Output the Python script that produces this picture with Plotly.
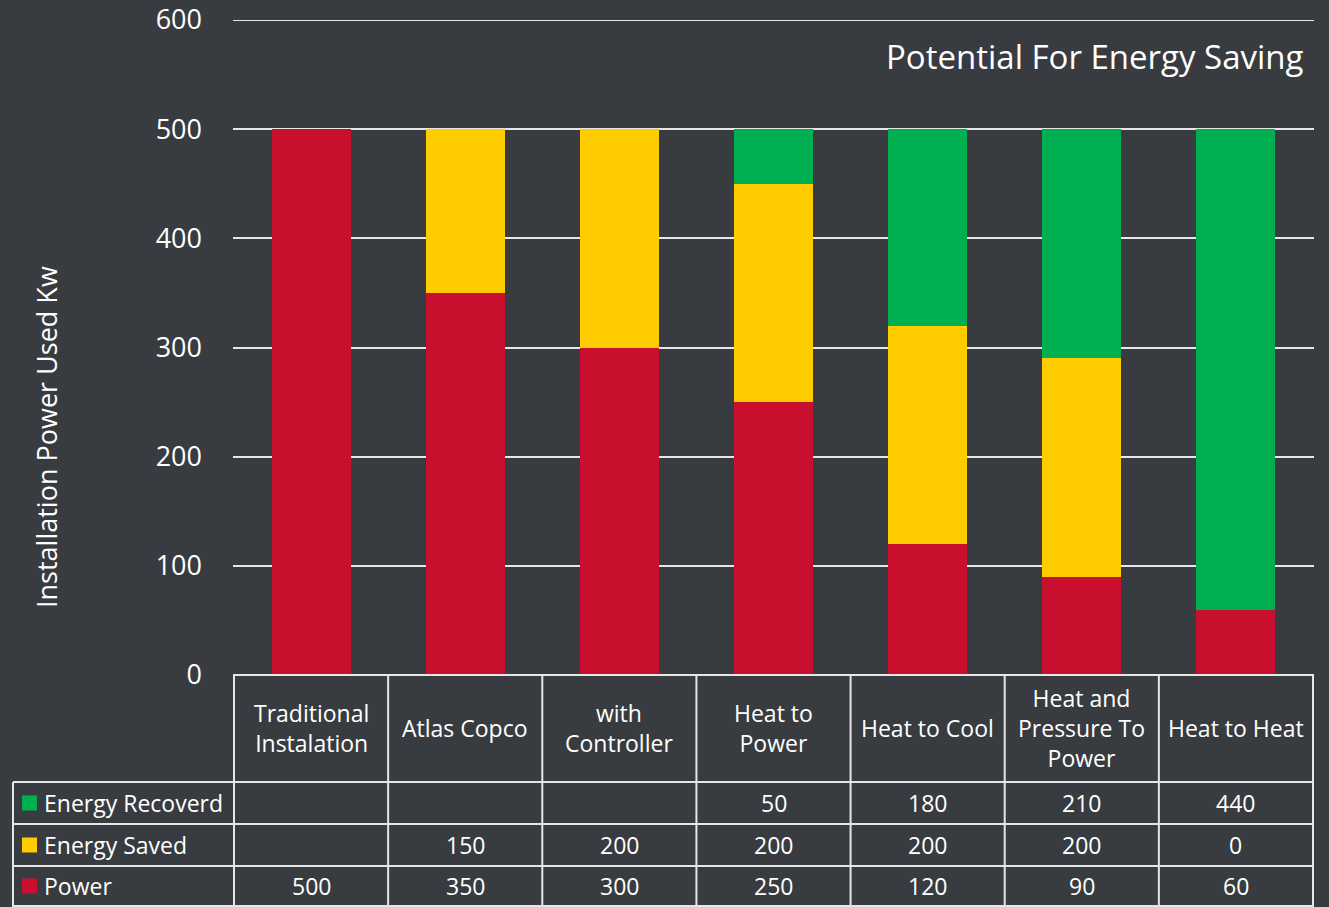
import plotly.graph_objects as go

categories = ["Traditional Instalation", "Atlas Copco", "with Controller", "Heat to Power",
              "Heat to Cool", "Heat and Pressure To Power", "Heat to Heat"]
header_labels = ["Traditional<br>Instalation", "Atlas Copco", "with<br>Controller", "Heat to<br>Power",
                 "Heat to Cool", "Heat and<br>Pressure To<br>Power", "Heat to Heat"]
power = [500, 350, 300, 250, 120, 90, 60]
energy_saved = [None, 150, 200, 200, 200, 200, 0]
energy_recovered = [None, None, None, 50, 180, 210, 440]
y_ticks = [0, 100, 200, 300, 400, 500, 600]

BG = "#383C40"
RED = "#C8102E"
YELLOW = "#FFCC00"
GREEN = "#00B050"
LINE = "#E6E6E6"
FONT = "Open Sans"

W, H = 1329, 907
def xp(px): return px / W
def yp(py): return 1 - py / H

fig = go.Figure()
series = [("Power", power, RED), ("Energy Saved", energy_saved, YELLOW),
          ("Energy Recoverd", energy_recovered, GREEN)]
for name, vals, col in series:
    fig.add_trace(go.Bar(x=categories, y=vals, name=name, marker_color=col,
                         marker_line_width=0, showlegend=False))

fig.update_layout(
    width=W, height=H, barmode="stack", bargap=0.488,
    paper_bgcolor=BG, plot_bgcolor=BG,
    margin=dict(l=0, r=0, t=0, b=0, pad=0),
    font=dict(family=FONT, color="white"),
    xaxis=dict(domain=[xp(233), xp(1314)], showticklabels=False, showgrid=False,
               zeroline=False, showline=False, automargin=False),
    yaxis=dict(domain=[yp(675), yp(20)], range=[0, 600], tickvals=y_ticks,
               showgrid=True, gridcolor=LINE, gridwidth=2, zeroline=False,
               tickfont=dict(size=27, color="white"), ticks="",
               ticklabelstandoff=30, automargin=False),
)

shapes = []
# top gridline at 600
shapes.append(dict(type="line", xref="paper", yref="y", x0=xp(233), x1=xp(1314),
                   y0=600, y1=600, line=dict(color=LINE, width=2)))
# table borders
n = len(categories)
for i in range(n + 1):
    shapes.append(dict(type="line", xref="x", yref="paper", x0=i - 0.5, x1=i - 0.5,
                       y0=yp(675), y1=yp(907), line=dict(color=LINE, width=2)))
shapes.append(dict(type="line", xref="paper", yref="paper", x0=xp(13), x1=xp(13),
                   y0=yp(782), y1=yp(907), line=dict(color=LINE, width=2)))
shapes.append(dict(type="line", xref="paper", yref="paper", x0=xp(233), x1=xp(1314),
                   y0=yp(675), y1=yp(675), line=dict(color=LINE, width=2)))
for py in [782, 824, 866, 906]:
    shapes.append(dict(type="line", xref="paper", yref="paper", x0=xp(13), x1=xp(1314),
                       y0=yp(py), y1=yp(py), line=dict(color=LINE, width=2)))

annotations = []
row_centers = [803, 845, 886]
row_series = [("Energy Recoverd", energy_recovered, GREEN), ("Energy Saved", energy_saved, YELLOW),
              ("Power", power, RED)]
TF = 23
for (name, vals, col), cy in zip(row_series, row_centers):
    shapes.append(dict(type="rect", xref="paper", yref="paper", x0=xp(22), x1=xp(37),
                       y0=yp(cy + 7.5), y1=yp(cy - 7.5), fillcolor=col, line=dict(width=0)))
    annotations.append(dict(text=name, xref="paper", yref="paper", x=xp(42), y=yp(cy),
                            xanchor="left", yanchor="middle", showarrow=False,
                            font=dict(size=TF, color="white", family=FONT)))
    for c, v in zip(categories, vals):
        if v is None:
            continue
        annotations.append(dict(text=str(v), xref="x", yref="paper", x=c, y=yp(cy),
                                xanchor="center", yanchor="middle", showarrow=False,
                                font=dict(size=TF, color="white", family=FONT)))
for c, lab in zip(categories, header_labels):
    annotations.append(dict(text=lab, xref="x", yref="paper", x=c, y=yp(728),
                            xanchor="center", yanchor="middle", showarrow=False,
                            font=dict(size=TF, color="white", family=FONT)))

annotations.append(dict(text="Potential For Energy Saving", xref="paper", yref="paper",
                        x=xp(1306), y=yp(56), xanchor="right", yanchor="middle",
                        showarrow=False, font=dict(size=33, color="white", family=FONT)))
annotations.append(dict(text="Installation Power Used Kw", xref="paper", yref="paper",
                        x=xp(46), y=yp(437), xanchor="center", yanchor="middle",
                        textangle=-90, showarrow=False,
                        font=dict(size=27, color="white", family=FONT)))

fig.update_layout(shapes=shapes, annotations=annotations)
fig.write_html("out.html", config={"displayModeBar": False},
               post_script="document.body.style.margin='0';")
